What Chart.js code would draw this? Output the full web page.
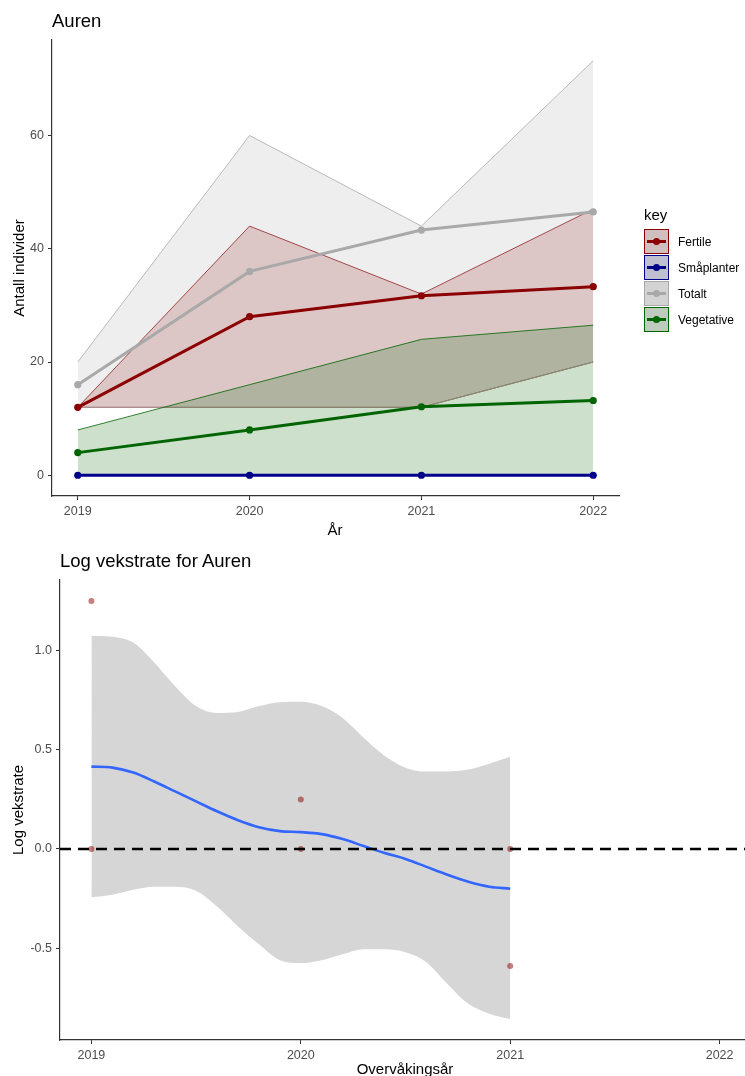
<!DOCTYPE html>
<html>
<head>
<meta charset="utf-8">
<script src="https://cdn.jsdelivr.net/npm/chart.js@4.4.0/dist/chart.umd.min.js"></script>
<style>
html, body { margin: 0; padding: 0; overflow: hidden; background: #fff; }
body { width: 745px; height: 1076px; position: relative; font-family: "Liberation Sans", Arial, sans-serif; }
canvas { position: absolute; left: 0; }
.txt { position: absolute; white-space: nowrap; color: #000; line-height: 1; }
.ytitle { position: absolute; white-space: nowrap; line-height: 1; font-size: 15px; transform: translate(-50%, -50%) rotate(-90deg); }
.key { position: absolute; left: 644px; width: 25px; height: 25px; box-sizing: border-box; border: 1px solid; background: #d9d9d9; }
.key .ln { position: absolute; left: 2px; right: 2px; top: 10px; height: 3px; }
.key .dot { position: absolute; left: 8px; top: 8px; width: 7px; height: 7px; border-radius: 50%; }
.lab { position: absolute; left: 678px; font-size: 12px; line-height: 1; }
</style>
</head>
<body>
<canvas id="topChart" width="745" height="538" style="top:0"></canvas>
<canvas id="bottomChart" width="755" height="538" style="top:538px"></canvas>

<div class="txt" style="left:52px; top:12px; font-size:18.5px">Auren</div>
<div class="txt" style="left:335px; top:522px; font-size:15px; transform:translateX(-50%)">År</div>
<div class="ytitle" style="left:18px; top:268px">Antall individer</div>
<div class="txt" style="left:644px; top:207px; font-size:15px">key</div>
<div id="legend"></div>

<div class="txt" style="left:60px; top:552px; font-size:18.5px">Log vekstrate for Auren</div>
<div class="txt" style="left:405px; top:1061px; font-size:15px; transform:translateX(-50%)">Overvåkingsår</div>
<div class="ytitle" style="left:17px; top:810px">Log vekstrate</div>

<script>
// --- top chart data (Auren) ---
const years = [2019, 2020, 2021, 2022];
const fertile = [12, 28, 31.7, 33.3];
const fertileLow = [12, 12, 12, 20];
const fertileHigh = [12, 44, 32, 47];
const smaplanter = [0, 0, 0, 0];
const smaplanterLow = [0, 0, 0, 0];
const smaplanterHigh = [0, 0, 0, 0];
const totalt = [16, 36, 43.3, 46.5];
const totaltLow = [12, 12, 12, 20];
const totaltHigh = [20, 60, 44, 73.2];
const vegetative = [4, 8, 12.1, 13.2];
const vegetativeLow = [0, 0, 0, 0];
const vegetativeHigh = [8, 16, 24, 26.5];
const countTicks = [0, 20, 40, 60];

// --- bottom chart data (log growth rate) ---
const rateYears = [2019, 2019, 2020, 2020, 2021, 2021];
const rateValues = [1.25, 0, 0.25, 0, 0, -0.59];
const smoothX = [2019, 2019.1, 2019.2, 2019.3, 2019.4, 2019.5, 2019.6, 2019.7, 2019.8, 2019.9,
                 2020, 2020.1, 2020.2, 2020.3, 2020.4, 2020.5, 2020.6, 2020.7, 2020.8, 2020.9, 2021];
const smoothFit = [0.415, 0.41, 0.385, 0.34, 0.29, 0.24, 0.19, 0.145, 0.11, 0.09,
                   0.085, 0.075, 0.05, 0.015, -0.02, -0.05, -0.09, -0.13, -0.165, -0.19, -0.2];
const smoothUpper = [1.075, 1.07, 1.04, 0.94, 0.82, 0.72, 0.685, 0.69, 0.72, 0.74,
                     0.742, 0.72, 0.66, 0.56, 0.47, 0.41, 0.39, 0.39, 0.40, 0.43, 0.465];
const smoothLower = [-0.243, -0.23, -0.205, -0.19, -0.19, -0.21, -0.29, -0.39, -0.48, -0.56,
                     -0.575, -0.56, -0.53, -0.505, -0.505, -0.52, -0.57, -0.68, -0.78, -0.83, -0.857];
const rateTicks = [-0.5, 0, 0.5, 1.0];
const refLevel = 0;

Chart.defaults.font.family = '"Liberation Sans", Arial, sans-serif';

const pts = (xs, ys) => xs.map((x, i) => ({ x: x, y: ys[i] }));

const series = [
  { name: 'Fertile', y: fertile, lo: fertileLow, hi: fertileHigh, rgb: '139,0,0' },
  { name: 'Småplanter', y: smaplanter, lo: smaplanterLow, hi: smaplanterHigh, rgb: '0,0,139' },
  { name: 'Totalt', y: totalt, lo: totaltLow, hi: totaltHigh, rgb: '169,169,169' },
  { name: 'Vegetative', y: vegetative, lo: vegetativeLow, hi: vegetativeHigh, rgb: '0,100,0' }
];

// ggplot style 5% expansion
function expand(lo, hi, f) {
  var d = (hi - lo) * f;
  return [lo - d, hi + d];
}

function axisStyle(tickVals, fmt, fixedSize, isX) {
  return {
    type: 'linear',
    afterBuildTicks: function (s) { s.ticks = tickVals.map(v => ({ value: v })); },
    ticks: { callback: fmt, color: '#4D4D4D', font: { size: 12.5 }, padding: 4, maxRotation: 0, autoSkip: false },
    grid: { display: true, drawOnChartArea: false, drawTicks: true, tickLength: 4, color: '#333333' },
    border: { display: true, color: '#333333', width: 1.2 },
    afterFit: function (s) { if (isX) s.height = fixedSize; else s.width = fixedSize; }
  };
}

// top chart
var topSets = [];
series.forEach(function (s, k) {
  var lowIdx = topSets.length;
  topSets.push({
    data: pts(years, s.lo), borderColor: 'rgb(' + s.rgb + ')', borderWidth: 0.8,
    pointRadius: 0, fill: false, order: 20 - k
  });
  topSets.push({
    data: pts(years, s.hi), borderColor: 'rgb(' + s.rgb + ')', borderWidth: 0.8,
    pointRadius: 0, fill: lowIdx, backgroundColor: 'rgba(' + s.rgb + ',0.2)', order: 20 - k
  });
});
series.forEach(function (s, k) {
  topSets.push({
    data: pts(years, s.y), borderColor: 'rgb(' + s.rgb + ')', borderWidth: 3,
    pointRadius: 3.6, pointBackgroundColor: 'rgb(' + s.rgb + ')', pointBorderWidth: 0,
    fill: false, order: 10 - k
  });
});

var allTop = [].concat(fertile, fertileLow, fertileHigh, totalt, totaltLow, totaltHigh, vegetative, vegetativeLow, vegetativeHigh, smaplanter);
var topY = expand(Math.min.apply(null, allTop), Math.max.apply(null, allTop), 0.05);
var topX = expand(years[0], years[years.length - 1], 0.05);

var topX_axis = axisStyle(years, v => String(v), 42, true);
topX_axis.min = topX[0]; topX_axis.max = topX[1];
var topY_axis = axisStyle(countTicks, v => String(v), 52, false);
topY_axis.min = topY[0]; topY_axis.max = topY[1];

new Chart(document.getElementById('topChart'), {
  type: 'line',
  data: { datasets: topSets },
  options: {
    responsive: false, animation: false,
    layout: { padding: { left: 0, top: 40, right: 126, bottom: 0 } },
    plugins: { legend: { display: false }, tooltip: { enabled: false } },
    scales: { x: topX_axis, y: topY_axis }
  }
});

// legend for top chart
var legend = document.getElementById('legend');
series.forEach(function (s, k) {
  var top = 229 + k * 26;
  var box = document.createElement('div');
  box.className = 'key';
  box.style.top = top + 'px';
  box.style.borderColor = 'rgb(' + s.rgb + ')';
  box.style.background = 'linear-gradient(rgba(' + s.rgb + ',0.12), rgba(' + s.rgb + ',0.12)), #d9d9d9';
  box.innerHTML = '<div class="ln" style="background:rgb(' + s.rgb + ')"></div>' +
                  '<div class="dot" style="background:rgb(' + s.rgb + ')"></div>';
  legend.appendChild(box);
  var lab = document.createElement('div');
  lab.className = 'lab';
  lab.style.top = (top + 7) + 'px';
  lab.textContent = s.name;
  legend.appendChild(lab);
});

// bottom chart
var allBottom = [].concat(rateValues, smoothUpper, smoothLower);
var botY = expand(Math.min.apply(null, allBottom), Math.max.apply(null, allBottom), 0.05);
var botX = expand(years[0], years[years.length - 1], 0.05);

var botX_axis = axisStyle(years, v => String(v), 36, true);
botX_axis.min = botX[0]; botX_axis.max = botX[1];
var botY_axis = axisStyle(rateTicks, v => Number(v).toFixed(1), 60, false);
botY_axis.min = botY[0]; botY_axis.max = botY[1];

new Chart(document.getElementById('bottomChart'), {
  type: 'line',
  data: {
    datasets: [
      { data: pts(smoothX, smoothLower), borderWidth: 0, pointRadius: 0, fill: false,
        cubicInterpolationMode: 'monotone', order: 5 },
      { data: pts(smoothX, smoothUpper), borderWidth: 0, pointRadius: 0, fill: 0,
        backgroundColor: 'rgba(153,153,153,0.4)', cubicInterpolationMode: 'monotone', order: 4 },
      { data: pts(smoothX, smoothFit), borderColor: '#3366FF', borderWidth: 2.6, pointRadius: 0,
        fill: false, cubicInterpolationMode: 'monotone', order: 3 },
      { data: pts(rateYears, rateValues), showLine: false, pointRadius: 3,
        pointBackgroundColor: 'rgba(139,0,0,0.5)', pointBorderWidth: 0, order: 2 },
      { data: [{ x: botX[0], y: refLevel }, { x: botX[1], y: refLevel }], borderColor: '#000',
        borderWidth: 2.6, borderDash: [11, 7], pointRadius: 0, fill: false, order: 1 }
    ]
  },
  options: {
    responsive: false, animation: false,
    layout: { padding: { left: 0, top: 42, right: 0, bottom: 0 } },
    plugins: { legend: { display: false }, tooltip: { enabled: false } },
    scales: { x: botX_axis, y: botY_axis }
  }
});
</script>
</body>
</html>
